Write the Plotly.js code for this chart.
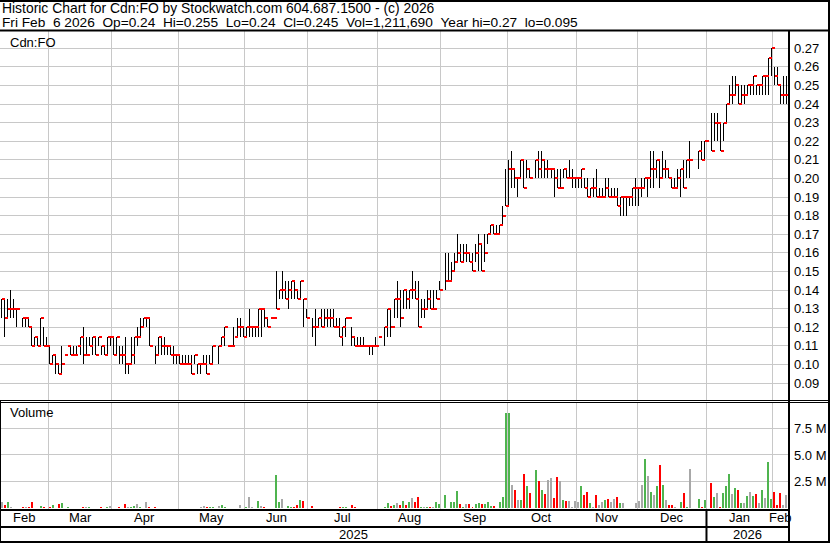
<!DOCTYPE html>
<html><head><meta charset="utf-8">
<script src="https://cdn.plot.ly/plotly-3.0.1.min.js"></script>
<style>
html,body{margin:0;padding:0;background:#fff;}
#chart{width:830px;height:543px;}
.js-plotly-plot .scatterlayer path.js-line{shape-rendering:crispEdges;}
</style></head><body><div id="chart"></div>
<script>
// ---------------- DATA ----------------
const startDate = '2025-02-07';
const endDate = '2026-02-06';
const monthNames = ['Jan','Feb','Mar','Apr','May','Jun','Jul','Aug','Sep','Oct','Nov','Dec'];
const headerLine1 = 'Historic Chart for Cdn:FO by Stockwatch.com 604.687.1500 - (c) 2026';
const headerLine2 = 'Fri Feb\u00a0\u00a06 2026\u00a0\u00a0Op=0.24\u00a0\u00a0Hi=0.255\u00a0\u00a0Lo=0.24\u00a0\u00a0Cl=0.245\u00a0\u00a0Vol=1,211,690\u00a0\u00a0Year hi=0.27\u00a0\u00a0lo=0.095';
const symbol = 'Cdn:FO';
const priceTicks = [0.09,0.10,0.11,0.12,0.13,0.14,0.15,0.16,0.17,0.18,0.19,0.20,0.21,0.22,0.23,0.24,0.25,0.26,0.27];
const volumeTicks = [2.5,5.0,7.5];
const volumeTickText = ['2.5 M','5.0 M','7.5 M'];

// one entry per weekday (holidays / no-trade days = null)
const high = [
.135,.135,.135,.14,.135,.13,null,.125,.125,.125,
.12,.115,.115,.125,.12,.115,.11,.105,.105,.10,
.11,.105,.11,.11,.11,.11,.115,.12,.115,.115,
.115,.115,.115,.11,.11,.115,.115,.115,.115,.11,
.11,.115,.10,.115,.115,.12,.125,.125,.125,.125,
null,.11,.115,.115,.115,.11,.11,.11,.105,.105,
.105,.105,.105,.105,.105,.10,.10,.105,.105,.105,
.11,null,.11,.115,.12,.11,.11,.12,.125,.125,
.12,.12,.13,.12,.12,.13,.13,.13,.125,.125,
.125,.15,.14,.15,.145,.145,.145,.145,.14,.145,
.135,.13,null,.125,.13,.125,.13,.13,.13,.13,
.13,.125,.125,.12,.125,.125,.12,.115,.115,.115,
.115,.11,.11,.11,.115,.115,null,.12,.13,.13,
.135,.145,.14,.14,.14,.14,.15,.145,.145,.135,
.135,.14,.14,.14,.14,.145,null,.16,.16,.155,
.16,.17,.165,.165,.165,.16,.16,.165,.17,.165,
.17,.17,.175,.175,.175,.175,.185,.205,.21,.215,
.205,.20,.21,.21,.21,.205,null,.21,.215,.215,
.21,.21,.205,.205,.205,.205,.205,.205,.21,.205,
.20,.20,.205,.20,.20,.195,.20,.205,.195,.195,
.20,.20,.195,.195,.195,.19,.19,.19,.19,.195,
.20,.195,.20,.20,.20,.215,.215,.21,.21,.215,
.21,.205,.20,.20,.205,.205,.21,.21,.22,null,
null,.215,.22,.22,null,.235,.235,.235,.23,.23,
.24,.25,.255,.255,.25,.25,.25,.25,.25,.255,
.25,.25,.255,.255,.265,.27,.26,.26,.25,.255,.255];

const low = [
.125,.115,.125,.125,.125,.12,null,.12,.12,.12,
.11,.11,.11,.11,.11,.11,.10,.10,.095,.095,
.095,.105,.11,.105,.105,.105,.105,.10,.105,.11,
.105,.105,.11,.105,.105,.105,.11,.105,.105,.10,
.10,.095,.095,.10,.10,.11,.115,.12,.12,.11,
null,.10,.105,.105,.105,.105,.105,.10,.10,.10,
.10,.10,.10,.095,.10,.095,.095,.10,.095,.10,
.10,null,.10,.11,.11,.11,.11,.11,.115,.115,
.115,.115,.115,.115,.115,.115,.115,.12,.12,.125,
.125,.13,.135,.135,.135,.13,.135,.135,.135,.135,
.12,.125,null,.115,.11,.12,.12,.12,.12,.12,
.12,.12,.115,.11,.115,.125,.11,.11,.11,.11,
.11,.11,.105,.105,.11,.115,null,.11,.115,.115,
.125,.125,.12,.13,.13,.13,.135,.135,.12,.125,
.125,.13,.13,.13,.135,.14,null,.14,.145,.145,
.15,.155,.155,.155,.155,.155,.15,.155,.15,.15,
.155,.165,.17,.17,.17,.17,.175,.185,.185,.195,
.195,.19,.20,.195,.20,.20,null,.20,.20,.20,
.20,.20,.20,.19,.195,.195,.20,.20,.20,.195,
.195,.195,.195,.195,.19,.19,.19,.19,.19,.19,
.19,.19,.19,.19,.185,.18,.18,.18,.185,.185,
.185,.185,.19,.195,.19,.195,.195,.20,.195,.20,
.20,.20,.195,.195,.195,.19,.195,.20,.20,null,
null,.205,.21,.21,null,.215,.22,.22,.215,.22,
.23,.24,.24,.245,.24,.24,.24,.245,.245,.245,
.245,.245,.245,.245,.245,.255,.25,.25,.24,.24,.24];

const close = [
.135,.125,.13,.13,.13,.13,null,.125,.125,.12,
.11,.115,.11,.125,.11,.11,.10,.105,.10,.095,
.10,.105,.11,.105,.105,.11,.115,.105,.105,.11,
.115,.105,.115,.11,.105,.115,.115,.105,.115,.105,
.105,.10,.10,.105,.115,.115,.12,.125,.125,.11,
null,.105,.115,.11,.11,.11,.105,.105,.105,.10,
.10,.10,.10,.095,.105,.10,.10,.10,.095,.10,
.11,null,.11,.115,.12,.11,.11,.115,.12,.12,
.115,.12,.12,.12,.12,.13,.13,.125,.12,.125,
.125,.13,.14,.14,.135,.14,.145,.14,.135,.145,
.135,.125,null,.12,.12,.125,.12,.125,.125,.125,
.12,.12,.115,.12,.125,.125,.115,.11,.11,.11,
.11,.11,.11,.11,.11,.115,null,.12,.13,.12,
.135,.135,.125,.14,.135,.14,.14,.135,.12,.13,
.13,.135,.13,.13,.135,.14,null,.145,.145,.15,
.155,.16,.155,.16,.16,.155,.15,.16,.165,.15,
.16,.17,.175,.17,.17,.175,.18,.185,.205,.205,
.20,.20,.21,.195,.205,.20,null,.21,.205,.21,
.205,.205,.205,.20,.195,.195,.205,.20,.20,.20,
.20,.20,.205,.195,.19,.195,.195,.19,.19,.19,
.195,.19,.19,.19,.185,.19,.19,.19,.19,.195,
.195,.195,.195,.20,.20,.205,.205,.21,.20,.205,
.205,.20,.195,.195,.20,.205,.195,.21,.21,null,
null,.215,.21,.22,null,.215,.23,.23,.215,.23,
.24,.245,.245,.25,.24,.245,.245,.25,.25,.255,
.25,.25,.255,.255,.265,.27,.255,.25,.245,.245,.245];

const volumeMillions = [
.55,.30,.55,.14,.03,.02,null,.08,.08,.08,
.62,.03,.03,.22,.14,.05,.14,.30,.03,.36,
.52,.03,.08,.05,.03,.03,.05,.11,.08,.14,
.03,.03,.03,.14,.03,.14,.22,.03,.03,.14,
.03,.43,.14,.14,.19,.40,.14,.03,.62,.14,
null,.08,.03,.03,.03,.03,.03,.03,.03,.03,
.03,.03,.03,.03,.03,.03,.11,.22,.14,.11,
.11,null,.22,.30,.11,.03,.03,.05,.03,.30,
.03,.14,1.02,.14,.03,.71,.19,.11,.05,.03,
.03,3.08,.62,.90,.03,.22,.11,.11,.33,.77,
.71,.05,null,.22,.05,.03,.03,.03,.03,.03,
.03,.03,.14,.14,.14,.03,.33,.11,.03,.03,
.05,.03,.05,.03,.03,.03,null,.14,.52,.22,
.33,.49,.30,.68,.33,.62,.99,.55,1.02,.14,
.08,.08,.14,.14,.62,.36,null,1.28,.05,.62,
.62,1.65,.36,.14,.36,.36,.14,.36,.49,.36,
.36,.55,.17,.17,.03,.55,1.02,8.98,8.98,2.23,
1.75,.82,.82,3.24,2.13,1.39,null,3.55,2.6,1.75,
1.34,2.7,2.8,.93,2.9,2.52,.8,.71,.71,.08,
.71,.62,2.13,1.28,1.55,.46,.14,1.28,.30,.62,
.77,.85,.62,.85,1.08,.52,.52,.03,.05,.03,
.52,.68,2.23,4.65,3.0,1.55,1.28,2.05,4.03,2.23,
.8,.30,.33,.14,.03,.62,1.45,.08,3.65,null,
null,.90,.14,.8,null,2.4,1.08,1.45,.14,1.45,
2.05,3.24,1.3,1.95,1.75,.46,.52,1.2,1.55,1.2,
1.3,.52,1.75,.99,4.3,.85,1.55,.30,1.4,.33,1.21];

// ---------------- BUILD ----------------
function weekdays(s, e) {
  const out = [];
  const d = new Date(s + 'T00:00:00Z');
  const end = new Date(e + 'T00:00:00Z');
  while (d <= end) {
    const g = d.getUTCDay();
    if (g !== 0 && g !== 6) out.push(new Date(d));
    d.setUTCDate(d.getUTCDate() + 1);
  }
  return out;
}
const days = weekdays(startDate, endDate);
const N = days.length;

const W = 830, H = 543;
const PX = x => x / W;
const PY = y => 1 - y / H;
const plotRight = 788;
const FONT = 'Liberation Sans, Arial, Helvetica, sans-serif';

// month & year groups
const months = [], years = [];
days.forEach((d, i) => {
  const mk = d.getUTCFullYear() * 12 + d.getUTCMonth();
  if (!months.length || months[months.length - 1].key !== mk)
    months.push({key: mk, m: d.getUTCMonth(), first: i, last: i});
  else months[months.length - 1].last = i;
  const y = d.getUTCFullYear();
  if (!years.length || years[years.length - 1].y !== y) years.push({y: y, first: i, last: i});
  else years[years.length - 1].last = i;
});
const gridVals = months.slice(1).map(m => m.first - 0.5);

// OHLC sticks and close ticks
const sx = [], sy = [], tx = [], ty = [];
for (let i = 0; i < N; i++) {
  if (high[i] == null) continue;
  sx.push(i, i, null); sy.push(low[i], high[i], null);
  tx.push(i + 0.17, i + 1.17, null); ty.push(close[i], close[i], null);
}
// volume colours from close changes
const volColors = [];
let prev = null;
for (let i = 0; i < N; i++) {
  let c = '#a8a8a8';
  if (close[i] != null) {
    if (prev != null) c = close[i] > prev ? '#4fb44f' : (close[i] < prev ? '#ff0000' : '#a8a8a8');
    prev = close[i];
  }
  volColors.push(c);
}
const idx = days.map((d, i) => i);

const traces = [
  {type: 'scatter', mode: 'lines', x: sx, y: sy, xaxis: 'x', yaxis: 'y',
   line: {color: '#000', width: 1}, hoverinfo: 'skip', connectgaps: false},
  {type: 'scatter', mode: 'lines', x: tx, y: ty, xaxis: 'x', yaxis: 'y',
   line: {color: '#ff0000', width: 2}, hoverinfo: 'skip', connectgaps: false},
  {type: 'bar', x: idx, y: volumeMillions, xaxis: 'x2', yaxis: 'y2',
   marker: {color: volColors, line: {width: 0}}, width: 0.66, hoverinfo: 'skip'}
];

const gridColor = '#c8c8c8';
const xBase = {range: [-0.5, N - 0.5], domain: [0, PX(plotRight)], tickvals: gridVals,
  showticklabels: false, ticks: '', showgrid: true, gridcolor: gridColor, gridwidth: 1,
  zeroline: false, showline: false, fixedrange: true};

const baseAnn = {xref: 'paper', yref: 'paper', xanchor: 'left', yanchor: 'middle',
  showarrow: false, borderpad: 0};
const annotations = [
  {text: headerLine1, x: PX(1), y: PY(8.4), font: {family: FONT, size: 13.9, color: '#000'}},
  {text: headerLine2, x: PX(0.5), y: PY(22.6), font: {family: FONT, size: 13.7, color: '#000'}},
  {text: symbol, x: PX(9), y: PY(42), font: {family: FONT, size: 13, color: '#000'}},
  {text: 'Volume', x: PX(9), y: PY(412.5), font: {family: FONT, size: 13, color: '#000'}}
].map(a => Object.assign({}, baseAnn, a));

months.forEach(m => annotations.push({text: monthNames[m.m], xref: 'x', yref: 'paper',
  x: (m.first + m.last) / 2, y: PY(517), xanchor: 'center', yanchor: 'middle', showarrow: false,
  borderpad: 0, font: {family: FONT, size: 13, color: '#000'}}));
years.forEach(y => annotations.push({text: String(y.y), xref: 'x', yref: 'paper',
  x: (y.first + y.last) / 2, y: PY(534), xanchor: 'center', yanchor: 'middle', showarrow: false,
  borderpad: 0, font: {family: FONT, size: 13, color: '#000'}}));

function hline(y, x0, x1, w) {
  return {type: 'line', xref: 'paper', yref: 'paper', x0: PX(x0), x1: PX(x1), y0: PY(y), y1: PY(y),
    line: {color: '#000', width: w}, layer: 'above'};
}
function vline(x, y0, y1, w) {
  return {type: 'line', xref: 'paper', yref: 'paper', x0: PX(x), x1: PX(x), y0: PY(y0), y1: PY(y1),
    line: {color: '#000', width: w}, layer: 'above'};
}
const shapes = [
  hline(1, 0, W, 2),
  hline(30.5, 0, W, 2),
  hline(400.5, 0, W, 1),
  hline(402.5, 0, W, 1),
  hline(510, 0, 789, 2),
  hline(527, 0, 789, 2),
  hline(542, 0, W, 2),
  vline(829, 0, H, 2),
  vline(789, 30, H, 2),
  vline(0.5, 400, H, 1)
];
// year separator at the first day of the second year
if (years.length > 1) shapes.push({type: 'line', xref: 'x', yref: 'paper',
  x0: years[1].first - 0.5, x1: years[1].first - 0.5, y0: PY(509), y1: PY(H),
  line: {color: '#000', width: 2}, layer: 'above'});

const layout = {
  width: W, height: H, margin: {l: 0, r: 0, t: 0, b: 0, pad: 0},
  paper_bgcolor: '#fff', plot_bgcolor: '#fff', showlegend: false,
  font: {family: FONT, size: 13, color: '#000'},
  xaxis: Object.assign({}, xBase, {anchor: 'y'}),
  xaxis2: Object.assign({}, xBase, {anchor: 'y2', matches: 'x'}),
  yaxis: {domain: [PY(400), PY(31)], range: [0.0809, 0.2793], side: 'right', anchor: 'x',
    tickvals: priceTicks, ticktext: priceTicks.map(v => v.toFixed(2)), ticks: '',
    ticklabelstandoff: 5, showgrid: true, gridcolor: gridColor, gridwidth: 1, zeroline: false,
    showline: false, tickfont: {family: FONT, size: 13, color: '#000'}, fixedrange: true},
  yaxis2: {domain: [PY(509.3), PY(402.5)], range: [-0.094, 9.92], side: 'right', anchor: 'x2',
    tickvals: volumeTicks, ticktext: volumeTickText, ticks: '', ticklabelstandoff: 5,
    showgrid: true, gridcolor: gridColor, gridwidth: 1, zeroline: false, showline: false,
    tickfont: {family: FONT, size: 13, color: '#000'}, fixedrange: true},
  bargap: 0,
  annotations: annotations,
  shapes: shapes
};
if ([high.length, low.length, close.length, volumeMillions.length].some(n => n !== N)) {
  layout.annotations.push({text: 'LEN ' + [N, high.length, low.length, close.length, volumeMillions.length].join(','),
    xref: 'paper', yref: 'paper', x: 0.5, y: 0.5, showarrow: false, font: {size: 20, color: 'blue'}});
}
Plotly.newPlot('chart', traces, layout, {staticPlot: true, displayModeBar: false});
</script></body></html>
